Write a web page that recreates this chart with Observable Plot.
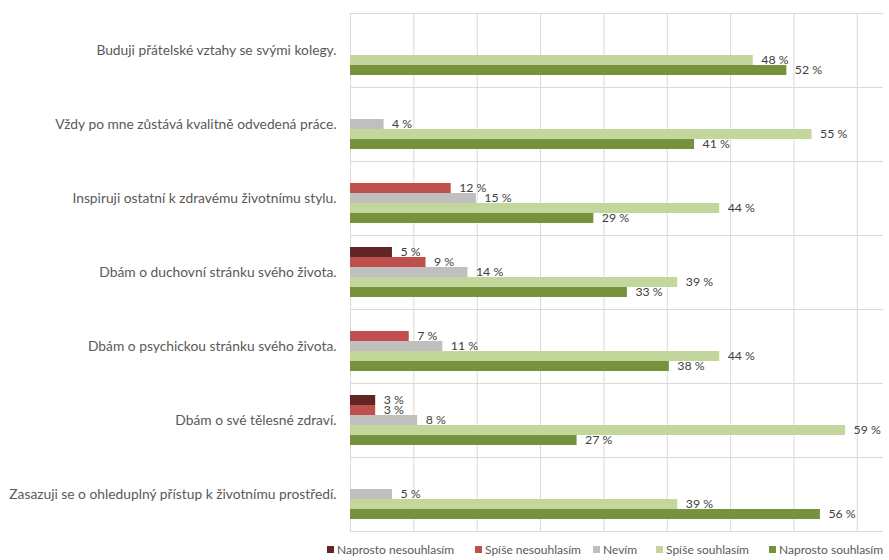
<!DOCTYPE html>
<html>
<head>
<meta charset="utf-8">
<script src="https://cdn.jsdelivr.net/npm/d3@7"></script>
<script src="https://cdn.jsdelivr.net/npm/@observablehq/plot@0.6"></script>
<style>
  html, body { margin: 0; padding: 0; background: #fff; }
  #chart { width: 889px; }
  .legend { position: relative; margin-top: 6px; height: 16px;
            font-family: Lato, "Liberation Sans", sans-serif; font-size: 12px; color: #595959; white-space: nowrap; }
  .legend .item { position: absolute; top: 0; display: flex; align-items: center; height: 16px; }
  .legend .sw { width: 7px; height: 7px; margin-right: 3px; display: inline-block; }
</style>
</head>
<body>
<div id="chart"></div>
<script>
// Statements (categories), top to bottom
const statements = [
  "Buduji přátelské vztahy se svými kolegy.",
  "Vždy po mne zůstává kvalitně odvedená práce.",
  "Inspiruji ostatní k zdravému životnímu stylu.",
  "Dbám o duchovní stránku svého života.",
  "Dbám o psychickou stránku svého života.",
  "Dbám o své tělesné zdraví.",
  "Zasazuji se o ohleduplný přístup k životnímu prostředí."
];
// Answer series
const series = ["Naprosto nesouhlasím", "Spíše nesouhlasím", "Nevím", "Spíše souhlasím", "Naprosto souhlasím"];
// Values in % per statement (0 = no bar)
const naprostoNesouhlasim = [0, 0, 0, 5, 0, 3, 0];
const spiseNesouhlasim    = [0, 0, 12, 9, 7, 3, 0];
const nevim               = [0, 4, 15, 14, 11, 8, 5];
const spiseSouhlasim      = [48, 55, 44, 39, 44, 59, 39];
const naprostoSouhlasim   = [52, 41, 29, 33, 38, 27, 56];
const seriesColors = ["#632523", "#c0504d", "#bfbfbf", "#c3d69b", "#76923c"];
const legendLefts = [327, 475, 593, 656, 769];

const valueArrays = [naprostoNesouhlasim, spiseNesouhlasim, nevim, spiseSouhlasim, naprostoSouhlasim];
const rows = statements.flatMap((st, i) =>
  series.map((s, j) => ({statement: st, series: s, value: valueArrays[j][i]}))
).filter(d => d.value > 0);

const gridStep = 7.55;
const xMax = 63.4;

const plot = Plot.plot({
  width: 889,
  height: 535,
  marginLeft: 350,
  marginRight: 7,
  marginTop: 13,
  marginBottom: 4,
  style: {fontFamily: "Lato, 'Liberation Sans', sans-serif", fontSize: "13.8px", color: "#595959", background: "#fff"},
  x: {domain: [0, xMax], axis: null},
  y: {domain: series, axis: null, paddingInner: 0, paddingOuter: 0.97},
  fy: {domain: statements, padding: 0, axis: "left", label: null, tickSize: 0, tickPadding: 14},
  color: {domain: series, range: seriesColors},
  marks: [
    Plot.gridX(d3.range(0, xMax, gridStep), {stroke: "#d9d9d9", strokeOpacity: 1}),
    Plot.frame({anchor: "top", stroke: "#d9d9d9"}),
    Plot.frame({anchor: "bottom", stroke: "#d9d9d9"}),
    Plot.barX(rows, {x: "value", y: "series", fy: "statement", fill: "series"}),
    Plot.text(rows, {x: "value", y: "series", fy: "statement", text: d => d.value + " %",
      textAnchor: "start", dx: 8, fill: "#404040", fontSize: 12.3})
  ]
});
document.getElementById("chart").appendChild(plot);

const legend = document.createElement("div");
legend.className = "legend";
series.forEach((s, j) => {
  const item = document.createElement("span");
  item.className = "item";
  item.style.left = legendLefts[j] + "px";
  const sw = document.createElement("span");
  sw.className = "sw";
  sw.style.background = seriesColors[j];
  item.appendChild(sw);
  item.appendChild(document.createTextNode(s));
  legend.appendChild(item);
});
document.getElementById("chart").appendChild(legend);
</script>
</body>
</html>
